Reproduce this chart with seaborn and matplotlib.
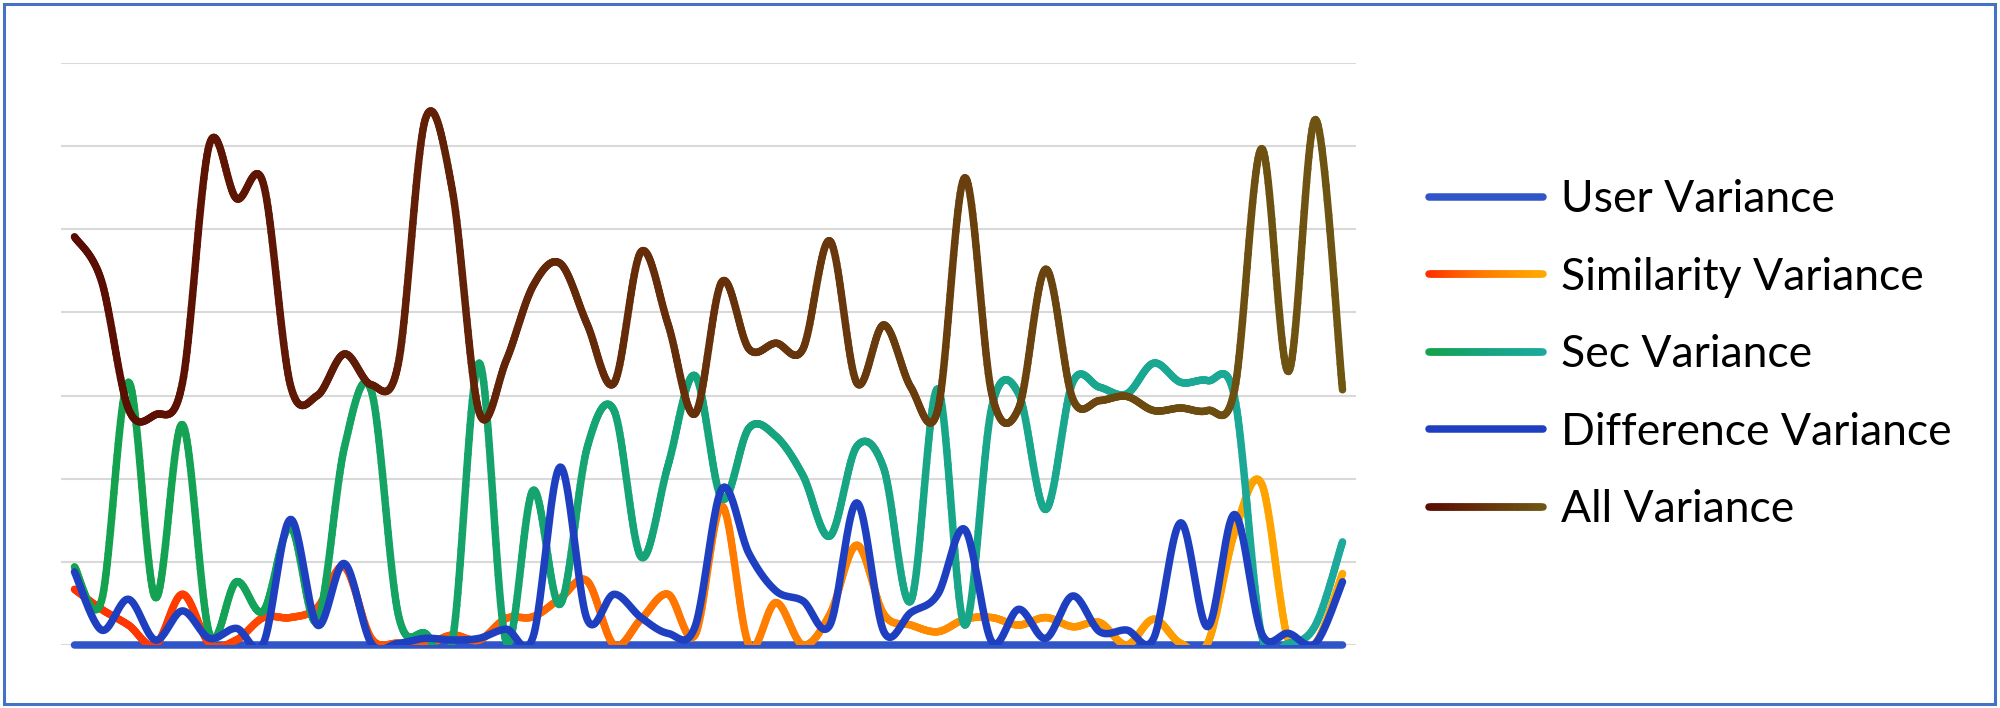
import numpy as np
import matplotlib
matplotlib.use("Agg")
import matplotlib.pyplot as plt
import seaborn as sns
from matplotlib.collections import LineCollection
from matplotlib.colors import LinearSegmentedColormap
from matplotlib.legend_handler import HandlerBase
from matplotlib.lines import Line2D
from matplotlib.patches import Rectangle

# ==========================================
# Data (grid units)
# ==========================================
series_names = ["User Variance", "Similarity Variance", "Sec Variance",
                "Difference Variance", "All Variance"]

user_var = [0.0] * 48

similarity_var = [0.67, 0.43, 0.24, 0.00, 0.61, 0.02, 0.06, 0.33, 0.33, 0.45,
                  0.94, 0.08, 0.02, 0.00, 0.12, 0.06, 0.32, 0.34, 0.56, 0.77,
                  0.00, 0.31, 0.61, 0.12, 1.67, 0.00, 0.51, 0.00, 0.37, 1.20,
                  0.37, 0.24, 0.16, 0.31, 0.33, 0.24, 0.33, 0.22, 0.27, 0.00,
                  0.31, 0.02, 0.02, 1.35, 1.94, 0.04, 0.02, 0.86]

sec_var = [0.94, 0.53, 3.16, 0.57, 2.65, 0.14, 0.76, 0.41, 1.42, 0.29,
           2.37, 3.06, 0.37, 0.14, 0.04, 3.39, 0.04, 1.86, 0.49, 2.37,
           2.82, 1.06, 2.16, 3.24, 1.76, 2.61, 2.51, 2.04, 1.31, 2.39,
           2.12, 0.53, 3.08, 0.24, 2.86, 3.02, 1.63, 3.16, 3.10, 3.02,
           3.39, 3.16, 3.18, 2.98, 0.12, 0.02, 0.24, 1.24]

difference_var = [0.88, 0.18, 0.55, 0.06, 0.41, 0.08, 0.20, 0.02, 1.51, 0.24,
                  0.98, 0.02, 0.02, 0.08, 0.06, 0.08, 0.19, 0.10, 2.14, 0.31,
                  0.61, 0.33, 0.14, 0.22, 1.88, 1.10, 0.65, 0.53, 0.24, 1.71,
                  0.16, 0.39, 0.61, 1.39, 0.04, 0.43, 0.08, 0.59, 0.16, 0.18,
                  0.08, 1.47, 0.22, 1.57, 0.14, 0.14, 0.02, 0.76]

all_var = [4.91, 4.38, 2.84, 2.77, 3.15, 6.02, 5.37, 5.55, 3.13, 3.00,
           3.50, 3.13, 3.38, 6.32, 5.48, 2.80, 3.42, 4.32, 4.59, 3.86,
           3.15, 4.73, 3.86, 2.78, 4.37, 3.56, 3.63, 3.56, 4.86, 3.15,
           3.85, 3.10, 2.83, 5.62, 3.02, 2.85, 4.52, 2.96, 2.94, 2.99,
           2.82, 2.85, 2.82, 3.07, 5.97, 3.29, 6.32, 3.07]

# ==========================================
# Styling
# ==========================================
sns.set_theme(style="white")
plt.rcParams["font.family"] = ["Lato", "DejaVu Sans"]

user_color = "#2F55C8"
diff_color = "#1E40C0"
sim_cmap = LinearSegmentedColormap.from_list("sim", ["#FF3000", "#FF7A00", "#FFA800"])
sec_cmap = LinearSegmentedColormap.from_list("sec", ["#14A24C", "#15A47C", "#1DA99C"])
all_cmap = LinearSegmentedColormap.from_list("all", ["#5A0C02", "#66300A", "#6E5512"])
LW = 5.4


def smooth(values, n=24):
    # Excel-style smoothed line (Catmull-Rom as cubic Bezier)
    y = np.asarray(values, dtype=float)
    p = np.column_stack([np.arange(len(y), dtype=float), y])
    ext = np.vstack([p[0], p, p[-1]])
    out = []
    for i in range(len(p) - 1):
        p0, p1, p2, p3 = ext[i], ext[i + 1], ext[i + 2], ext[i + 3]
        c1 = p1 + (p2 - p0) / 6
        c2 = p2 - (p3 - p1) / 6
        t = np.linspace(0, 1, n, endpoint=(i == len(p) - 2))[:, None]
        out.append((1 - t) ** 3 * p1 + 3 * (1 - t) ** 2 * t * c1
                   + 3 * (1 - t) * t ** 2 * c2 + t ** 3 * p2)
    pts = np.vstack(out)
    return pts[:, 0], pts[:, 1]


def gradient_line(ax, values, cmap):
    xs, ys = smooth(values)
    pts = np.column_stack([xs, ys]).reshape(-1, 1, 2)
    segs = np.concatenate([pts[:-1], pts[1:]], axis=1)
    cols = cmap(xs[:-1] / (len(values) - 1))
    lc = LineCollection(segs, colors=cols, linewidth=LW, capstyle="round",
                        joinstyle="round")
    ax.add_collection(lc)


class GradientHandler(HandlerBase):
    def __init__(self, cmap):
        super().__init__()
        self.cmap = cmap

    def create_artists(self, legend, orig_handle, xdescent, ydescent,
                       width, height, fontsize, trans):
        x = np.linspace(-xdescent, width - xdescent, 40)
        y = np.full_like(x, height / 2 - ydescent)
        pts = np.column_stack([x, y]).reshape(-1, 1, 2)
        segs = np.concatenate([pts[:-1], pts[1:]], axis=1)
        lc = LineCollection(segs, colors=self.cmap(np.linspace(0, 1, len(segs))),
                            linewidth=LW, capstyle="round", transform=trans)
        return [lc]


fig = plt.figure(figsize=(20, 7.08), dpi=100)
ax = fig.add_axes([0.0305, 0.089, 0.6475, 0.822])

# User variance (flat at zero)
xs, ys = smooth(user_var)
sns.lineplot(x=xs, y=ys, color=user_color, linewidth=LW, ax=ax, clip_on=False,
             legend=False)
gradient_line(ax, similarity_var, sim_cmap)
gradient_line(ax, sec_var, sec_cmap)
xs, ys = smooth(difference_var)
sns.lineplot(x=xs, y=ys, color=diff_color, linewidth=LW, ax=ax, legend=False,
             solid_capstyle="round")
gradient_line(ax, all_var, all_cmap)

ax.set_xlim(-0.5, len(all_var) - 0.5)
ax.set_ylim(0, 7)
ax.set_yticks(range(8))
ax.set_xticks([])
ax.set_yticklabels([])
ax.yaxis.grid(True, color="#D9D9D9", linewidth=1.5)
ax.set_axisbelow(True)
for s in ax.spines.values():
    s.set_visible(False)
ax.set_xlabel("")
ax.set_ylabel("")

# Legend
handles = [Line2D([], [], color=user_color, linewidth=LW),
           Line2D([], [], color="#FF7A00", linewidth=LW),
           Line2D([], [], color="#15A47C", linewidth=LW),
           Line2D([], [], color=diff_color, linewidth=LW),
           Line2D([], [], color="#66300A", linewidth=LW)]
hmap = {handles[1]: GradientHandler(sim_cmap),
        handles[2]: GradientHandler(sec_cmap),
        handles[4]: GradientHandler(all_cmap)}
fig.legend(handles, series_names, handler_map=hmap, loc="center left",
           bbox_to_anchor=(0.7145, 0.499), frameon=False, fontsize=32,
           handlelength=2.56, handletextpad=0.4, labelspacing=0.82,
           borderpad=0, borderaxespad=0, labelcolor="black")

# outer blue frame
fig.patches.append(Rectangle((0.00175, 0.0057), 0.9958, 0.989,
                             transform=fig.transFigure, fill=False,
                             edgecolor="#4472C4", linewidth=2.2))

fig.savefig("out.png", dpi=100)
plt.close(fig)
